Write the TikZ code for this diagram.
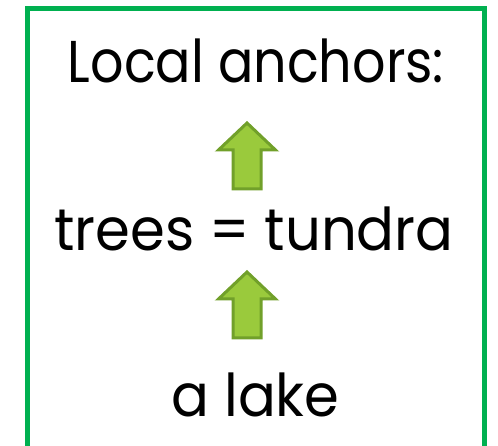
\documentclass[tikz,border=0pt]{standalone}
\usepackage{fontspec}
\setmainfont[FakeStretch=0.95]{Poppins}
\usetikzlibrary{calc}
\definecolor{boxgreen}{RGB}{0,176,80}
\definecolor{arrowfill}{RGB}{154,202,60}
\definecolor{arrowline}{RGB}{113,160,42}
\begin{document}
\begin{tikzpicture}[x=1pt,y=1pt,
  txt/.style={anchor=base,inner sep=0pt,font=\fontsize{59}{62}\selectfont},
  blockarrow/.style={fill=arrowfill,draw=arrowline,line width=3pt,line join=miter}]
\useasboundingbox (0,0) rectangle (498,446);
\begin{scope}
\clip (0,0) rectangle (498,446);
\draw[boxgreen,line width=5pt] (27.5,-20) -- (27.5,437) -- (484,437) -- (484,-20);
\end{scope}
\node[txt] (top) at (256,363) {\scalebox{0.935}[1]{Local anchors:}};
\node[txt] (mid) at (254,195) {trees = tundra};
\node[txt] (bot) at (255.5,29) {a lake};
\coordinate (a1) at (247,257);
\coordinate (a2) at (247,108);
\foreach \c in {a1,a2}{
  \draw[blockarrow] ($(\c)+(-14,0)$) -- ++(0,39) -- ++(-14.5,0) -- ++(28.5,27) -- ++(28.5,-27) -- ++(-14.5,0) -- ++(0,-39) -- cycle;
}
\end{tikzpicture}
\end{document}
